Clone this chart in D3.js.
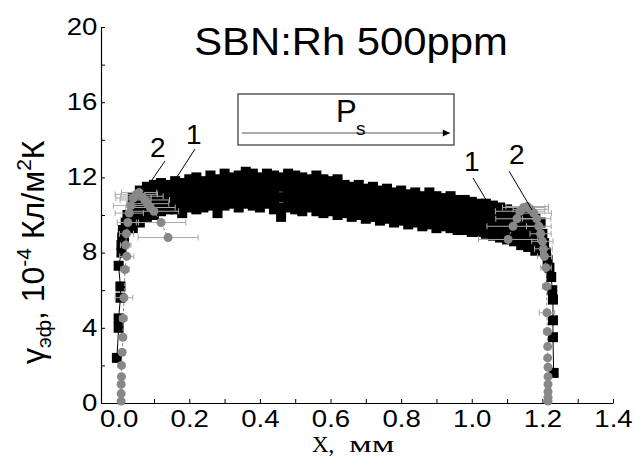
<!DOCTYPE html>
<html>
<head>
<meta charset="utf-8">
<script src="https://cdn.jsdelivr.net/npm/d3@7"></script>
<style>
  body { margin: 0; background: #fff; }
  svg { display: block; font-family: "Liberation Sans", Arial, sans-serif; }
</style>
</head>
<body>
<div id="chart"></div>
<script>
// ---- data ----
// series 1 (black squares): x grid and five scattered values per x
const sqX = [0.04,0.06,0.08,0.10,0.12,0.14,0.16,0.18,0.20,0.22,0.24,0.26,0.28,0.30,0.32,0.34,0.36,0.38,0.40,0.42,
  0.44,0.46,0.48,0.50,0.52,0.54,0.56,0.58,0.60,0.62,0.64,0.66,0.68,0.70,0.72,0.74,0.76,0.78,0.80,0.82,
  0.84,0.86,0.88,0.90,0.92,0.94,0.96,0.98,1.00,1.02,1.04,1.06,1.08,1.10,1.12,1.14,1.16,1.18];
const sqY1 = [10.9,11.3,11.5,11.6,11.7,11.6,11.8,11.7,11.9,12.0,11.8,12.1,11.9,12.2,12.0,12.1,12.3,12.2,12.0,12.2,
  12.1,12.0,12.2,12.1,12.0,11.9,12.1,11.9,11.8,11.9,11.6,11.5,11.6,11.4,11.5,11.3,11.4,11.2,11.3,11.1,
  11.2,11.0,11.2,11.0,10.9,11.0,10.8,10.8,10.7,10.6,10.6,10.5,10.4,10.3,10.2,10.1,10.0,9.8];
const sqY2 = [10.5,10.9,11.1,11.2,11.3,11.3,11.4,11.3,11.5,11.6,11.45,11.7,11.45,11.8,11.65,11.7,11.9,11.8,11.6,11.8,
  11.65,11.5,11.75,11.65,11.55,11.5,11.6,11.45,11.4,11.4,11.2,11.1,11.2,11.0,11.1,10.9,11.0,10.8,10.9,10.7,
  10.8,10.6,10.8,10.6,10.5,10.6,10.4,10.4,10.3,10.25,10.2,10.1,10.0,9.9,9.8,9.7,9.6,9.4];
const sqY3 = [10.1,10.45,10.7,10.8,10.95,10.95,11.05,10.9,11.15,11.15,11.1,11.3,11.0,11.35,11.3,11.25,11.45,11.35,11.2,11.4,
  11.2,10.95,11.3,11.2,11.1,11.15,11.15,11.0,11.0,10.95,10.85,10.7,10.8,10.6,10.7,10.5,10.6,10.4,10.5,10.3,
  10.4,10.2,10.35,10.15,10.15,10.15,10.0,10.0,9.9,9.85,9.8,9.7,9.6,9.5,9.4,9.25,9.15,8.95];
const sqY4 = [9.7,10.0,10.3,10.4,10.55,10.6,10.65,10.5,10.75,10.7,10.75,10.9,10.55,10.9,10.95,10.8,11.0,10.9,10.8,11.0,
  10.75,10.4,10.85,10.75,10.65,10.75,10.65,10.55,10.6,10.45,10.45,10.3,10.4,10.2,10.3,10.1,10.2,10.0,10.1,9.9,
  10.0,9.8,9.9,9.7,9.8,9.7,9.6,9.6,9.5,9.45,9.4,9.3,9.2,9.1,9.0,8.8,8.7,8.5];
const sqY5 = [9.3,9.6,9.9,10.0,10.2,10.3,10.3,10.1,10.4,10.3,10.4,10.5,10.1,10.5,10.6,10.4,10.6,10.5,10.4,10.6,
  10.3,9.9,10.4,10.3,10.2,10.4,10.2,10.1,10.2,10.0,10.1,9.9,10.0,9.8,9.9,9.7,9.8,9.6,9.7,9.5,
  9.6,9.4,9.5,9.3,9.4,9.3,9.2,9.2,9.1,9.1,9.0,8.9,8.8,8.7,8.6,8.4,8.3,8.1];
// steep edges of series 1, joined by a thin line
const edgeLeftX  = [-0.005,0.0,0.0,0.005,0.005,0.0,0.008,0.008,0.010,0.012,0.015,0.020,0.025];
const edgeLeftY  = [2.4,4.0,4.5,5.6,6.2,7.3,8.0,8.4,8.8,9.2,8.6,9.6,10.0];
const edgeRightX = [1.195,1.20,1.205,1.21,1.215,1.22,1.225,1.228,1.23,1.23,1.23,1.232];
const edgeRightY = [9.6,9.0,8.5,8.0,7.6,7.2,6.7,6.0,5.5,4.4,3.5,1.6];

// series 2 (grey circles with horizontal error bars)
const circX = [0.007,0.007,0.007,0.008,0.008,0.010,0.012,0.013,0.015,0.018,0.023,0.020,0.022,0.026,0.030,0.035,0.042,0.050,0.058,0.066,
  0.074,0.082,0.090,0.100,0.120,0.140,
  1.103,1.117,1.128,1.137,1.147,1.157,1.167,1.176,1.184,1.190,1.195,1.200,1.203,1.206,1.210,1.212,1.213,1.214,1.215,1.215,
  1.216,1.216,1.216,1.216,1.216,1.216];
const circY = [0.1,0.5,1.0,1.4,2.0,2.7,3.5,4.5,5.6,7.1,7.8,8.4,9.0,9.6,10.1,10.5,10.9,11.1,11.2,11.0,
  10.8,10.6,10.4,10.2,9.6,8.8,
  8.7,9.4,9.8,10.2,10.4,10.45,10.3,10.1,9.8,9.4,9.0,8.6,8.2,7.8,7.2,6.2,4.8,3.8,3.0,2.4,
  1.9,1.4,1.0,0.6,0.3,0.1];
const circErr = [0.005,0.005,0.005,0.006,0.006,0.008,0.008,0.010,0.025,0.012,0.020,0.015,0.020,0.030,0.040,0.050,0.050,0.060,0.050,0.060,
  0.070,0.060,0.070,0.070,0.070,0.085,
  0.084,0.074,0.060,0.070,0.060,0.060,0.050,0.050,0.040,0.035,0.030,0.030,0.025,0.020,0.015,0.012,0.022,0.010,0.008,0.006,
  0.005,0.005,0.005,0.005,0.005,0.005];

const xTicks = [0.0,0.1,0.2,0.3,0.4,0.5,0.6,0.7,0.8,0.9,1.0,1.1,1.2,1.3,1.4];
const yTicks = [0,2,4,6,8,10,12,14,16,18,20];

// ---- layout ----
const width = 635, height = 457;

const svg = d3.select('#chart').append('svg')
  .attr('width', width)
  .attr('height', height);

const x = d3.scaleLinear().domain([-0.05, 1.4]).range([101, 613]);
const y = d3.scaleLinear().domain([0, 20]).range([403, 27]);

// axes, ticks point inward
const xAxis = svg.append('g')
  .attr('transform', 'translate(0,' + y(0) + ')')
  .call(d3.axisBottom(x)
    .tickValues(xTicks)
    .tickSize(-4)
    .tickSizeOuter(0)
    .tickPadding(8)
    .tickFormat(d => Math.round(d * 10) % 2 === 0 ? d.toFixed(1) : ''));

const yAxis = svg.append('g')
  .attr('transform', 'translate(' + x(-0.05) + ',0)')
  .call(d3.axisLeft(y)
    .tickValues(yTicks)
    .tickSize(-4)
    .tickSizeOuter(0)
    .tickPadding(3)
    .tickFormat(d => d % 4 === 0 ? d : ''));

[xAxis, yAxis].forEach(a => {
  a.select('.domain').attr('stroke', '#000').attr('stroke-width', 1.2);
  a.selectAll('.tick line').attr('stroke', '#000');
  a.selectAll('.tick text')
    .attr('fill', '#000')
    .attr('font-size', 23)
    .attr('font-family', '"Liberation Sans", Arial, sans-serif')
    .attr('transform', 'scale(1.2,1)');
});

// ---- series 1: black squares ----
const squares = [];
sqX.forEach((v, i) => {
  squares.push([v, sqY1[i]], [v, sqY2[i]], [v, sqY3[i]], [v, sqY4[i]], [v, sqY5[i]]);
});
edgeLeftX.forEach((v, i) => squares.push([v, edgeLeftY[i]]));
edgeRightX.forEach((v, i) => squares.push([v, edgeRightY[i]]));

const edgeLine = d3.line().x(d => x(d[0])).y(d => y(d[1]));
svg.append('path')
  .datum(edgeLeftX.map((v, i) => [v, edgeLeftY[i]]))
  .attr('d', edgeLine)
  .attr('fill', 'none')
  .attr('stroke', '#000')
  .attr('stroke-width', 1);
svg.append('path')
  .datum(edgeRightX.map((v, i) => [v, edgeRightY[i]]))
  .attr('d', edgeLine)
  .attr('fill', 'none')
  .attr('stroke', '#000')
  .attr('stroke-width', 1);

const sq = 10;
svg.append('g')
  .selectAll('rect')
  .data(squares)
  .enter().append('rect')
    .attr('x', d => x(d[0]) - sq / 2)
    .attr('y', d => y(d[1]) - sq / 2)
    .attr('width', sq)
    .attr('height', sq)
    .attr('fill', '#000');

// ---- series 2: grey circles ----
const circles = circX.map((v, i) => ({ x: v, y: circY[i], e: circErr[i] }));

const bars = svg.append('g').attr('stroke', '#aaa').attr('stroke-width', 1);
circles.forEach(d => {
  const y0 = y(d.y);
  bars.append('line')
    .attr('x1', x(d.x - d.e)).attr('x2', x(d.x + d.e))
    .attr('y1', y0).attr('y2', y0);
  [d.x - d.e, d.x + d.e].forEach(c => {
    bars.append('line')
      .attr('x1', x(c)).attr('x2', x(c))
      .attr('y1', y0 - 3).attr('y2', y0 + 3);
  });
});

const circLine = d3.line().x(d => x(d.x)).y(d => y(d.y));
svg.append('path')
  .datum(circles.slice(0, 26))
  .attr('d', circLine)
  .attr('fill', 'none')
  .attr('stroke', '#888')
  .attr('stroke-dasharray', '3,2');
svg.append('path')
  .datum(circles.slice(26))
  .attr('d', circLine)
  .attr('fill', 'none')
  .attr('stroke', '#888')
  .attr('stroke-dasharray', '3,2');

svg.append('g')
  .selectAll('circle')
  .data(circles)
  .enter().append('circle')
    .attr('cx', d => x(d.x))
    .attr('cy', d => y(d.y))
    .attr('r', 4.5)
    .attr('fill', '#888');

// ---- labels ----
svg.append('text')
  .attr('transform', 'translate(351,55) scale(1.1,1)')
  .attr('text-anchor', 'middle')
  .attr('font-size', 38)
  .text('SBN:Rh 500ppm');

// x title: serif, the unit letters drawn wide like in the source
svg.append('text')
  .attr('x', 312)
  .attr('y', 452)
  .attr('font-family', '"Liberation Serif", "Times New Roman", serif')
  .attr('font-size', 23)
  .text('Х,');
svg.append('text')
  .attr('transform', 'translate(349,452) scale(1.5,1)')
  .attr('font-family', '"Liberation Serif", "Times New Roman", serif')
  .attr('font-size', 24)
  .text('мм');

const yLabel = svg.append('text')
  .attr('transform', 'translate(44,364) rotate(-90)')
  .attr('font-size', 32);
yLabel.append('tspan').text('γ');
yLabel.append('tspan').attr('font-size', 21).attr('dy', 7).text('эф');
yLabel.append('tspan').attr('dy', -7).text(', 10');
yLabel.append('tspan').attr('font-size', 21).attr('dy', -13).text('-4');
yLabel.append('tspan').attr('dy', 13).text(' Кл/м');
yLabel.append('tspan').attr('font-size', 21).attr('dy', -13).text('2');
yLabel.append('tspan').attr('dy', 13).text('К');

// inset with the polarization arrow
svg.append('defs').append('marker')
  .attr('id', 'arrow')
  .attr('viewBox', '0 0 10 10')
  .attr('refX', 10).attr('refY', 5)
  .attr('markerWidth', 10).attr('markerHeight', 6)
  .attr('orient', 'auto')
  .append('path').attr('d', 'M0,0 L10,5 L0,10 Z').attr('fill', '#000');

svg.append('rect')
  .attr('x', 238).attr('y', 94)
  .attr('width', 216).attr('height', 51)
  .attr('fill', 'none')
  .attr('stroke', '#333')
  .attr('stroke-width', 1.2);
svg.append('line')
  .attr('x1', 242).attr('x2', 450)
  .attr('y1', 133).attr('y2', 133)
  .attr('stroke', '#555')
  .attr('stroke-width', 1.2)
  .attr('marker-end', 'url(#arrow)');
svg.append('text').attr('x', 336).attr('y', 122).attr('font-size', 31).text('P');
svg.append('text').attr('x', 356).attr('y', 135).attr('font-size', 19).text('s');

// curve numbers with leader lines
const notes = [
  { t: '2', tx: 150, ty: 157, x1: 165, y1: 161, x2: 143, y2: 193 },
  { t: '1', tx: 186, ty: 144, x1: 195, y1: 149, x2: 175, y2: 180 },
  { t: '1', tx: 464, ty: 171, x1: 473, y1: 178, x2: 491, y2: 208 },
  { t: '2', tx: 509, ty: 164, x1: 509, y1: 171, x2: 532, y2: 210 }
];
notes.forEach(n => {
  svg.append('text').attr('x', n.tx).attr('y', n.ty).attr('font-size', 28).text(n.t);
  svg.append('line')
    .attr('x1', n.x1).attr('y1', n.y1).attr('x2', n.x2).attr('y2', n.y2)
    .attr('stroke', '#000').attr('stroke-width', 1);
});
</script>
</body>
</html>
